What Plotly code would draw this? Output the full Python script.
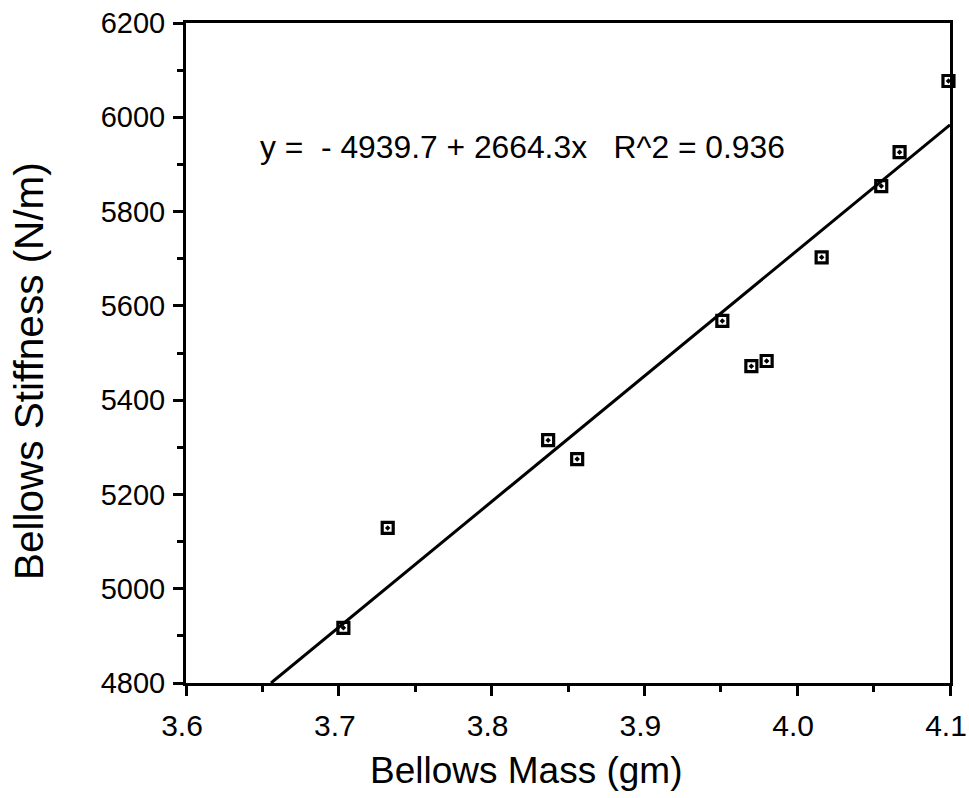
import plotly.graph_objects as go

# Data
mass = [3.703, 3.732, 3.837, 3.856, 3.951, 3.970, 3.980, 4.016, 4.055, 4.067, 4.099]
stiffness = [4917, 5129, 5315, 5275, 5568, 5472, 5483, 5703, 5854, 5926, 6077]

# Fit coefficients shown on the chart
intercept = -4939.7
slope = 2664.3
r2 = 0.936

x_ticks = [3.6, 3.7, 3.8, 3.9, 4.0, 4.1]
y_ticks = [4800, 5000, 5200, 5400, 5600, 5800, 6000, 6200]
x_range = [x_ticks[0], x_ticks[-1]]
y_range = [y_ticks[0], y_ticks[-1]]

# regression line clipped to the visible range
x_start = (y_range[0] - intercept) / slope
fit_x = [x_start, x_range[1]]
fit_y = [intercept + slope * v for v in fit_x]

FONT = "Liberation Sans, Arial, Helvetica, sans-serif"

fig = go.Figure()
fig.add_trace(go.Scatter(
    x=fit_x, y=fit_y, mode="lines",
    line=dict(color="black", width=3), showlegend=False, hoverinfo="skip",
))
fig.add_trace(go.Scatter(
    x=mass, y=stiffness, mode="markers",
    marker=dict(symbol="square-open-dot", size=11, color="black",
                line=dict(color="black", width=3.2)),
    showlegend=False, cliponaxis=False,
))

fig.add_annotation(
    xref="paper", yref="paper", x=0.094, y=0.812,
    xanchor="left", yanchor="middle", showarrow=False,
    text=f"y =  - {abs(intercept)} + {slope}x   R^2 = {r2}",
    font=dict(family=FONT, size=31.8, color="black"),
)
# axis titles (placed as in the reference)
fig.add_annotation(
    xref="paper", yref="paper", x=0.446, y=-0.1333,
    xanchor="center", yanchor="middle", showarrow=False,
    text="Bellows Mass (gm)",
    font=dict(family=FONT, size=37, color="black"),
)
fig.add_annotation(
    xref="paper", yref="paper", x=-0.2055, y=0.4727,
    xanchor="center", yanchor="middle", showarrow=False, textangle=-90,
    text="Bellows Stiffness (N/m)",
    font=dict(family=FONT, size=40.5, color="black"),
)

axis_common = dict(
    showgrid=False, zeroline=False,
    showline=True, linecolor="black", linewidth=3, mirror=True,
    ticks="outside", ticklen=10, tickwidth=2.5, tickcolor="black",
    ticklabeloverflow="allow", automargin=False,
)

fig.update_xaxes(
    range=x_range, tickvals=x_ticks, ticktext=[f"{v:.1f}" for v in x_ticks],
    minor=dict(dtick=0.05, ticks="outside", ticklen=6, tickwidth=2.5, tickcolor="black"),
    tickfont=dict(family=FONT, size=30, color="black"),
    ticklabelstandoff=4, ticklabelshift=-4,
    **axis_common,
)
fig.update_yaxes(
    range=y_range, tickvals=y_ticks, ticktext=[str(v) for v in y_ticks],
    minor=dict(dtick=100, ticks="outside", ticklen=6, tickwidth=2.5, tickcolor="black"),
    tickfont=dict(family=FONT, size=29, color="black"),
    ticklabelstandoff=2,
    **axis_common,
)

fig.update_layout(
    width=969, height=798,
    margin=dict(l=186, r=19, t=23, b=115, autoexpand=False),
    paper_bgcolor="white", plot_bgcolor="white",
    font=dict(family=FONT, color="black"),
)

fig.write_html("out.html")
